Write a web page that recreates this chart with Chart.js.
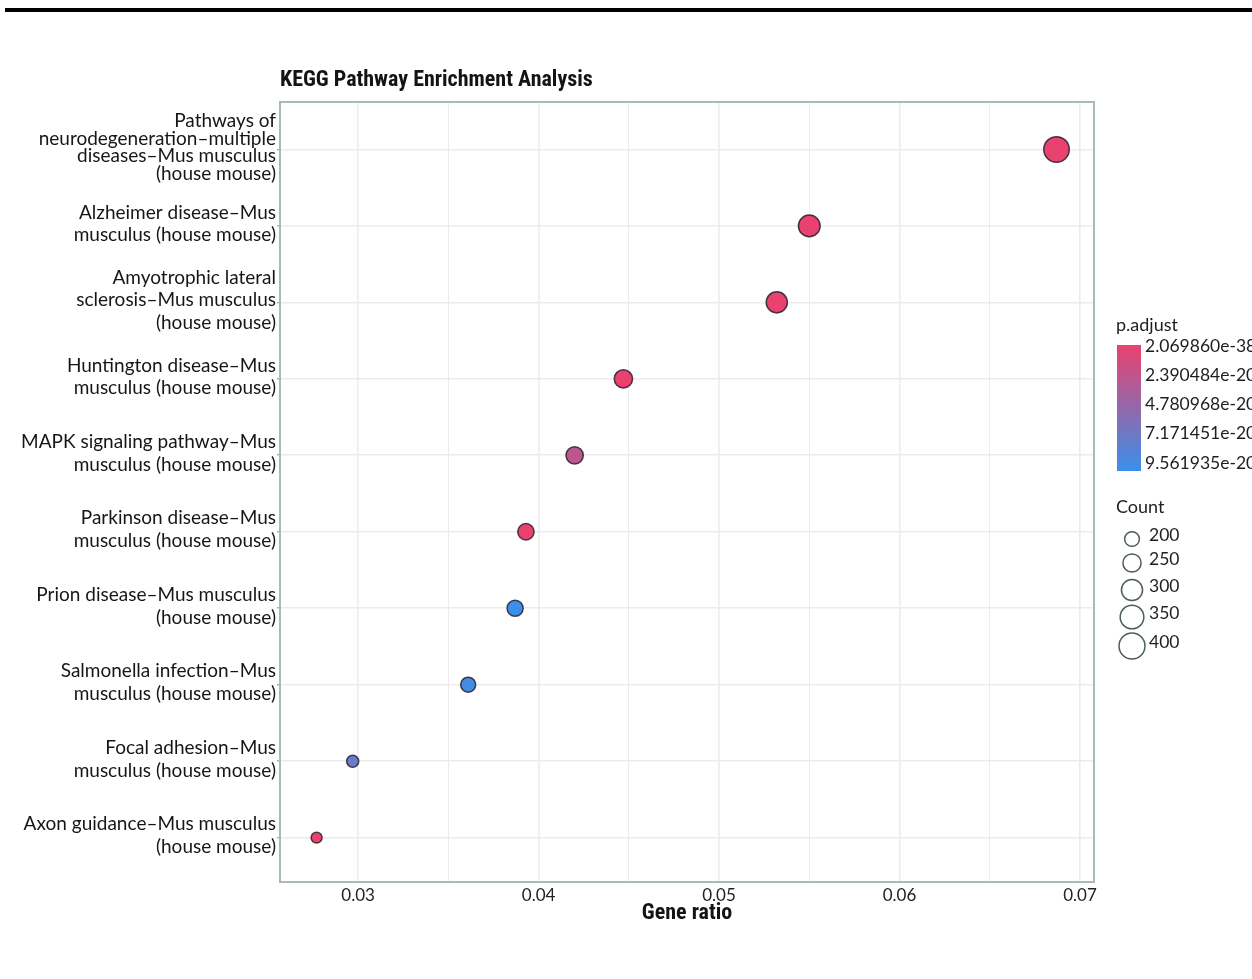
<!DOCTYPE html>
<html>
<head>
<meta charset="utf-8">
<script src="https://cdn.jsdelivr.net/npm/chart.js@4.4.1/dist/chart.umd.min.js"></script>
<style>
  html, body { margin: 0; padding: 0; background: #fff; }
  #wrap { position: relative; width: 1252px; height: 979px; overflow: hidden; }
  #topbar { position: absolute; left: 5px; right: 0; top: 8px; height: 4px; background: #000; }
  canvas { position: absolute; left: 0; top: 0; }
</style>
</head>
<body>
<div id="wrap">
  <canvas id="keggChart" width="1252" height="979"></canvas>
  <div id="topbar"></div>
</div>
<script>
// --- Data ---
const pathways = [
  ['Pathways of', 'neurodegeneration–multiple', 'diseases–Mus musculus', '(house mouse)'],
  ['Alzheimer disease–Mus', 'musculus (house mouse)'],
  ['Amyotrophic lateral', 'sclerosis–Mus musculus', '(house mouse)'],
  ['Huntington disease–Mus', 'musculus (house mouse)'],
  ['MAPK signaling pathway–Mus', 'musculus (house mouse)'],
  ['Parkinson disease–Mus', 'musculus (house mouse)'],
  ['Prion disease–Mus musculus', '(house mouse)'],
  ['Salmonella infection–Mus', 'musculus (house mouse)'],
  ['Focal adhesion–Mus', 'musculus (house mouse)'],
  ['Axon guidance–Mus musculus', '(house mouse)']
];
const geneRatio = [0.0687, 0.0550, 0.0532, 0.0447, 0.0420, 0.0393, 0.0387, 0.0361, 0.0297, 0.0277];
const geneCount = [400, 320, 310, 260, 244, 229, 225, 210, 173, 161];
const pAdjust = [2.06986e-38, 5.1e-31, 3.6e-29, 1.2e-26, 2.7e-20, 4.4e-24, 1.03e-19, 9.9e-20, 7.7e-20, 2.3e-22];

const xTickValues = [0.03, 0.035, 0.04, 0.045, 0.05, 0.055, 0.06, 0.065, 0.07];
const xTickLabels = ['0.03', '', '0.04', '', '0.05', '', '0.06', '', '0.07'];

const pLegendValues = [2.069860e-38, 2.390484e-20, 4.780968e-20, 7.171451e-20, 9.561935e-20];
const pLegendLabels = ['2.069860e-38', '2.390484e-20', '4.780968e-20', '7.171451e-20', '9.561935e-20'];
const countLegend = [200, 250, 300, 350, 400];

// --- Helpers ---
const LOW_COLOR = [233, 66, 111];   // small p.adjust
const HIGH_COLOR = [59, 143, 233];  // large p.adjust
const pMin = Math.min(...pAdjust);
const pMax = Math.max(...pAdjust);

function pColor(p) {
  const t = Math.max(0, Math.min(1, (p - pMin) / (pMax - pMin)));
  const c = LOW_COLOR.map((v, i) => Math.round(v + (HIGH_COLOR[i] - v) * t));
  return `rgb(${c[0]}, ${c[1]}, ${c[2]})`;
}

// size scale: area grows linearly with count
function countRadius(n) {
  return Math.sqrt(Math.max(4, 0.6 * n - 58));
}

const FONT = 'Lato, "Noto Sans", sans-serif';
const TITLE_FONT = '"Liberation Sans Narrow", "Roboto Condensed", Lato, sans-serif';

// --- Extra drawing: panel frame, titles, legends ---
const decorPlugin = {
  id: 'decor',
  afterDraw(chart) {
    const { ctx, chartArea: a } = chart;
    ctx.save();

    // panel border
    ctx.strokeStyle = '#a9baba';
    ctx.lineWidth = 2;
    ctx.strokeRect(a.left, a.top, a.right - a.left, a.bottom - a.top);

    // titles
    ctx.fillStyle = '#141414';
    ctx.font = `bold 22px ${TITLE_FONT}`;
    ctx.textAlign = 'left';
    ctx.textBaseline = 'middle';
    ctx.fillText('KEGG Pathway Enrichment Analysis', a.left, 80);
    ctx.textAlign = 'center';
    ctx.fillText('Gene ratio', (a.left + a.right) / 2, 913);

    // p.adjust colour bar
    const barX = 1117, barY = 345, barW = 24, barH = 126;
    ctx.textAlign = 'left';
    ctx.font = `18px ${FONT}`;
    ctx.fillStyle = '#1e1e1e';
    ctx.fillText('p.adjust', 1116, 325);
    const grad = ctx.createLinearGradient(0, barY, 0, barY + barH);
    grad.addColorStop(0, pColor(pMin));
    grad.addColorStop(1, pColor(pMax));
    ctx.fillStyle = grad;
    ctx.fillRect(barX, barY, barW, barH);
    ctx.font = `17.5px ${FONT}`;
    ctx.fillStyle = '#1e1e1e';
    pLegendValues.forEach((v, i) => {
      const y = barY + (v - pMin) / (pMax - pMin) * barH;
      ctx.fillText(pLegendLabels[i], 1145, y + 1);
    });

    // Count legend
    ctx.font = `18px ${FONT}`;
    ctx.fillText('Count', 1116, 507);
    const rowsY = [539, 563, 590, 617, 646];
    ctx.font = `17.5px ${FONT}`;
    countLegend.forEach((n, i) => {
      ctx.beginPath();
      ctx.arc(1132, rowsY[i], countRadius(n) - 0.5, 0, Math.PI * 2);
      ctx.strokeStyle = '#4d5c5c';
      ctx.lineWidth = 1.5;
      ctx.stroke();
      ctx.fillStyle = '#1e1e1e';
      ctx.fillText(String(n), 1149, rowsY[i] - 4);
    });

    ctx.restore();
  }
};

// --- Chart ---
const points = geneRatio.map((r, i) => ({ x: r, y: i }));

new Chart(document.getElementById('keggChart').getContext('2d'), {
  type: 'scatter',
  data: {
    datasets: [{
      label: 'KEGG',
      data: points,
      pointRadius: geneCount.map(n => countRadius(n) - 0.75),
      pointBackgroundColor: pAdjust.map(pColor),
      pointBorderColor: 'rgba(45, 30, 45, 0.85)',
      pointBorderWidth: 1.5,
      clip: false
    }]
  },
  options: {
    responsive: false,
    animation: false,
    events: [],
    layout: { padding: { top: 102, right: 158, bottom: 0, left: 0 } },
    plugins: {
      legend: { display: false },
      tooltip: { enabled: false }
    },
    scales: {
      x: {
        type: 'linear',
        min: 0.025673,
        max: 0.070777,
        afterBuildTicks: (scale) => { scale.ticks = xTickValues.map(v => ({ value: v })); },
        afterFit: (scale) => { scale.height = 97; },
        grid: {
          color: '#ececec',
          lineWidth: (ctx) => (ctx.index % 2 === 0 ? 1.6 : 1),
          drawTicks: false
        },
        border: { display: false },
        ticks: {
          autoSkip: false,
          maxRotation: 0,
          padding: 3,
          color: '#222',
          font: { family: FONT, size: 17 },
          callback: (value, index) => xTickLabels[index]
        }
      },
      y: {
        type: 'linear',
        reverse: true,
        min: -0.62,
        max: 9.58,
        afterBuildTicks: (scale) => { scale.ticks = pathways.map((_, i) => ({ value: i })); },
        afterFit: (scale) => { scale.width = 280; },
        grid: {
          color: '#ececec',
          lineWidth: 1.6,
          tickColor: '#8a8a8a',
          tickLength: 3,
          tickWidth: 1
        },
        border: { display: false },
        ticks: {
          autoSkip: false,
          padding: 1,
          labelOffset: -2,
          color: '#161616',
          font: (ctx) => ({ family: FONT, size: 19, lineHeight: ctx.index === 0 ? 0.92 : 1.2 }),
          callback: (value) => pathways[value]
        }
      }
    }
  },
  plugins: [decorPlugin]
});
</script>
</body>
</html>
